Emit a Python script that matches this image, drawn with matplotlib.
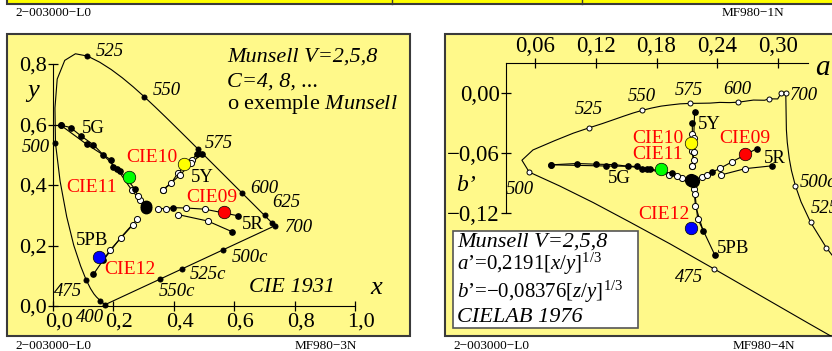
import numpy as np
import matplotlib
matplotlib.use("Agg")
import matplotlib.pyplot as plt
import matplotlib.transforms as mtransforms
from matplotlib.patches import Rectangle
from matplotlib.lines import Line2D

W, H, DPI = 832, 351, 100

plt.rcParams['font.family'] = ['Liberation Serif', 'DejaVu Serif']
plt.rcParams['mathtext.fontset'] = 'custom'
plt.rcParams['mathtext.rm'] = 'Liberation Serif'
plt.rcParams['mathtext.it'] = 'Liberation Serif:italic'

# ---- data (CIE 1931 xy) ----
locus_nm = [380, 400, 420, 440, 450, 460, 465, 470, 475, 480, 485, 490, 495, 500,
            505, 510, 515, 520, 525, 530, 535, 540, 545, 550, 555, 560, 565, 570,
            575, 580, 585, 590, 595, 600, 610, 620, 625, 630, 640, 650, 700]
locus_x = [0.1741, 0.1733, 0.1714, 0.1644, 0.1566, 0.1440, 0.1355, 0.1241, 0.1096,
           0.0913, 0.0687, 0.0454, 0.0235, 0.0082, 0.0065, 0.0139, 0.0389, 0.0743,
           0.1142, 0.1547, 0.1929, 0.2296, 0.2658, 0.3016, 0.3373, 0.3731, 0.4087,
           0.4441, 0.4788, 0.5125, 0.5448, 0.5752, 0.6029, 0.6270, 0.6658, 0.6915,
           0.7006, 0.7079, 0.7190, 0.7260, 0.7347]
locus_y = [0.0050, 0.0048, 0.0051, 0.0109, 0.0177, 0.0297, 0.0399, 0.0578, 0.0868,
           0.1327, 0.2007, 0.2950, 0.4127, 0.5384, 0.6548, 0.7502, 0.8120, 0.8338,
           0.8262, 0.8059, 0.7816, 0.7543, 0.7243, 0.6923, 0.6589, 0.6245, 0.5896,
           0.5547, 0.5202, 0.4866, 0.4544, 0.4242, 0.3965, 0.3725, 0.3340, 0.3083,
           0.2993, 0.2920, 0.2809, 0.2740, 0.2653]
locus_dot_nm = [400, 450, 475, 500, 525, 550, 575, 600, 625, 650, 700]

purple_x = [0.7347, 0.72, 0.70, 0.66, 0.62, 0.563, 0.50, 0.427, 0.354, 0.30, 0.25, 0.1733]
purple_y = [0.2653, 0.2585, 0.2492, 0.2306, 0.2121, 0.1856, 0.1564, 0.1225, 0.0886,
            0.0636, 0.0404, 0.0048]
compl_names = ['500c', '525c', '550c']
compl_x = [0.563, 0.427, 0.354]
compl_y = [0.1856, 0.1225, 0.0886]

# Munsell series: (x, y, filled) from neutral outwards
hue_5G = [
    [(0.288, 0.350, 0), (0.261, 0.383, 0), (0.213, 0.452, 1), (0.167, 0.499, 1),
     (0.134, 0.533, 1), (0.093, 0.562, 1), (0.058, 0.590, 1), (0.025, 0.598, 1)],
    [(0.280, 0.365, 0), (0.272, 0.386, 1), (0.222, 0.446, 1), (0.198, 0.458, 1),
     (0.192, 0.483, 1), (0.111, 0.535, 1), (0.025, 0.598, 1)],
]
hue_5Y = [
    [(0.363, 0.383, 0), (0.391, 0.405, 0), (0.413, 0.439, 0), (0.459, 0.483, 0),
     (0.476, 0.501, 1)],
    [(0.363, 0.383, 0), (0.420, 0.432, 0), (0.457, 0.472, 0), (0.492, 0.502, 1)],
]
hue_5R = [
    [(0.349, 0.322, 0), (0.374, 0.322, 0), (0.398, 0.325, 1), (0.439, 0.324, 0),
     (0.503, 0.320, 0), (0.614, 0.298, 1)],
    [(0.415, 0.302, 0), (0.512, 0.281, 0), (0.592, 0.246, 1)],
]
hue_5PB = [
    [(0.279, 0.287, 0), (0.224, 0.226, 0), (0.167, 0.152, 1)],
    [(0.264, 0.268, 0), (0.189, 0.185, 0), (0.134, 0.105, 1)],
]
hue_names = ['5G', '5Y', '5R', '5PB']
hue_series = [hue_5G, hue_5Y, hue_5R, hue_5PB]

cie_names = ['CIE09', 'CIE10', 'CIE11', 'CIE12']
cie_x = [0.567, 0.434, 0.252, 0.153]
cie_y = [0.312, 0.468, 0.425, 0.163]
cie_colors = ['#ff0000', '#ffff00', '#00ff00', '#0000ff']

neutral_x = [0.308, 0.308]
neutral_y = [0.329, 0.323]

PANEL = '#fff98a'
EDGE = '#3a3a3a'


def ident(x, y):
    return np.asarray(x, float), np.asarray(y, float)


def to_ab(x, y):
    x = np.asarray(x, float)
    y = np.asarray(y, float)
    z = 1 - x - y
    return 0.2191 * np.cbrt(x / y), -0.08376 * np.cbrt(z / y)


fig = plt.figure(figsize=(W / DPI, H / DPI), dpi=DPI)
fig.patch.set_facecolor('white')


def px_rect(x0, y0, x1, y1, **kw):
    fig.add_artist(Rectangle((x0 / W, 1 - y1 / H), (x1 - x0) / W, (y1 - y0) / H,
                             transform=fig.transFigure, **kw))


def ftext(px, py, s, **kw):
    kw.setdefault('va', 'center')
    fig.text(px / W, 1 - py / H, s, **kw)


def px_axes(x0, y0, x1, y1):
    ax = fig.add_axes([x0 / W, 1 - y1 / H, (x1 - x0) / W, (y1 - y0) / H])
    ax.set_facecolor('none')
    return ax


def lab(ax, xd, yd, s, dx, dy, ha='left', **kw):
    ax.annotate(s, (xd, yd), xytext=(dx * 0.72, dy * 0.72), textcoords='offset points',
                ha=ha, va='center', zorder=6, **kw)


# top strip (bottom of the panels above)
px_rect(7, -20, 850, 4, facecolor='#ffff00', edgecolor=EDGE, lw=1.5, zorder=-2)
for xv in (392, 582):
    fig.add_artist(Line2D([xv / W, xv / W], [1 - 4 / H, 1.0], color=EDGE, lw=1.0,
                          transform=fig.transFigure))

# panel frames
px_rect(7, 34, 410, 336, facecolor=PANEL, edgecolor=EDGE, lw=1.5, zorder=-2)
px_rect(445, 34, 850, 336, facecolor=PANEL, edgecolor=EDGE, lw=1.5, zorder=-2)


def draw_panel(ax, conv, locus_fill, locus_labels, compl_labels, cie_off, hue_off,
               neutral_ms):
    a, b = conv(locus_x, locus_y)
    ax.plot(a, b, color='k', lw=0.8, zorder=2)
    a, b = conv(purple_x, purple_y)
    ax.plot(a, b, color='k', lw=0.8, zorder=2)

    idx = [locus_nm.index(n) for n in locus_dot_nm]
    da, db = conv([locus_x[i] for i in idx], [locus_y[i] for i in idx])
    ax.plot(da, db, 'o', ms=3.6, mfc=locus_fill, mec='k', mew=0.7, ls='none', zorder=3)
    for nm, (dx, dy, ha) in locus_labels.items():
        i = locus_dot_nm.index(nm)
        lab(ax, da[i], db[i], str(nm), dx, dy, ha, fontsize=13.5, style='italic')

    ca, cb = conv(compl_x, compl_y)
    ax.plot(ca, cb, 'o', ms=3.6, mfc=locus_fill, mec='k', mew=0.7, ls='none', zorder=3)
    for nm, (dx, dy, ha) in compl_labels.items():
        i = compl_names.index(nm)
        lab(ax, ca[i], cb[i], nm, dx, dy, ha, fontsize=13.5, style='italic')

    for name, series in zip(hue_names, hue_series):
        for pts in series:
            xs, ys, fill = zip(*pts)
            sa, sb = conv(xs, ys)
            ax.plot(sa, sb, color='k', lw=0.8, zorder=2)
            for ai, bi, f in zip(sa, sb, fill):
                if f:
                    ax.plot(ai, bi, 'o', ms=3.8, mfc='k', mec='k', zorder=3)
                else:
                    ax.plot(ai, bi, 'o', ms=4.4, mfc='w', mec='k', mew=0.7, zorder=3)
        end = series[0][-1]
        ea, eb = conv([end[0]], [end[1]])
        dx, dy = hue_off[name]
        lab(ax, ea[0], eb[0], name, dx, dy, 'center', fontsize=13.5)

    na, nb = conv(neutral_x, neutral_y)
    ax.plot(na, nb, 'o', ms=neutral_ms, color='k', ls='none', zorder=4)

    pa, pb = conv(cie_x, cie_y)
    for i, nm in enumerate(cie_names):
        ax.plot(pa[i], pb[i], 'o', ms=9, mfc=cie_colors[i], mec='k', mew=0.5, zorder=5)
        dx, dy = cie_off[nm]
        lab(ax, pa[i], pb[i], nm, dx, dy, 'center', fontsize=14, color='#ff0000')


# ---- left panel: CIE 1931 ----
ax1 = px_axes(7, 34, 410, 336)
ax1.set_xlim((7 - 53) / 302, (410 - 53) / 302)
ax1.set_ylim((306 - 336) / 302.5, (306 - 34) / 302.5)
draw_panel(
    ax1, ident, 'k',
    {400: (-1, -13, 'right'), 475: (-4, -12, 'right'), 500: (-6, -4, 'right'),
     525: (8, 5, 'left'), 550: (9, 6, 'left'), 575: (7, 5, 'left'),
     600: (8, 5, 'left'), 625: (8, 13, 'left'), 700: (10, -2, 'left')},
    {'500c': (9, -8, 'left'), '525c': (8, -6, 'left'), '550c': (-1, -12, 'left')},
    {'CIE09': (-12, 14), 'CIE10': (-32, 7), 'CIE11': (-38, -10), 'CIE12': (31, -13)},
    {'5G': (33, -3), '5Y': (6, -23), '5R': (14, -9), '5PB': (-11, 20)},
    7.5)
for s in ('top', 'right'):
    ax1.spines[s].set_visible(False)
ax1.spines['left'].set_position(('data', 0))
ax1.spines['bottom'].set_position(('data', 0))
ax1.spines['left'].set_bounds(0, 0.8)
ax1.spines['bottom'].set_bounds(0, 1.0)
ax1.set_xticks([0, 0.2, 0.4, 0.6, 0.8, 1.0], ['0,0', '0,2', '0,4', '0,6', '0,8', '1,0'])
ax1.set_yticks([0, 0.2, 0.4, 0.6, 0.8], ['0,0', '0,2', '0,4', '0,6', '0,8'])
ax1.tick_params(direction='inout', length=7, width=0.9, labelsize=16, pad=1)
off = mtransforms.ScaledTranslation(6 / DPI, 0, fig.dpi_scale_trans)
for t in ax1.get_xticklabels():
    t.set_transform(t.get_transform() + off)

ftext(227, 57, 'Munsell V=2,5,8', fontsize=16, style='italic')
ftext(227, 82, 'C=4, 8, ...', fontsize=16, style='italic')
ftext(227, 104.5, 'o exemple $Munsell$', fontsize=16)
ftext(292, 288, 'CIE 1931', fontsize=16, style='italic', ha='center')
ftext(376, 288, 'x', fontsize=19, style='italic', ha='center')
ftext(33, 91, 'y', fontsize=19, style='italic', ha='center')

# ---- right panel: a', b' ----
ax2 = px_axes(445, 34, 832, 336)
ax2.set_xlim((445 - 474.25) / 1012.5, (832 - 474.25) / 1012.5)
ax2.set_ylim(-(336 - 93) / 1000, -(34 - 93) / 1000)
draw_panel(
    ax2, to_ab, 'w',
    {475: (-11, -9, 'right'), 500: (-9, -17, 'center'), 525: (0, 18, 'center'),
     550: (-1, 14, 'center'), 575: (-1, 13, 'center'), 600: (-1, 13, 'center'),
     700: (4, -3, 'left')},
    {'500c': (4, 3, 'left'), '525c': (0, 14, 'left')},
    {'CIE09': (0, 16), 'CIE10': (-33, 4), 'CIE11': (-3, 15), 'CIE12': (-28, 14)},
    {'5G': (68, -14), '5Y': (17, -2), '5R': (18, -10), '5PB': (30, -17)},
    8.5)
for s in ('bottom', 'right'):
    ax2.spines[s].set_visible(False)
ax2.spines['top'].set_position(('data', 0.030))
ax2.spines['top'].set_bounds(0.0316, 0.330)
ax2.spines['left'].set_position(('data', 0.0316))
ax2.spines['left'].set_bounds(-0.12, 0.030)
ax2.xaxis.tick_top()
ax2.set_xticks([0.06, 0.12, 0.18, 0.24, 0.30], ['0,06', '0,12', '0,18', '0,24', '0,30'])
ax2.set_yticks([0, -0.06, -0.12], ['0,00', '\u22120,06', '\u22120,12'])
ax2.tick_params(direction='inout', length=7, width=0.9, labelsize=16.5, pad=1)

ftext(822, 68, 'a', fontsize=21, style='italic', ha='center')
ftext(466, 185, 'b\u2019', fontsize=17, style='italic', ha='center')

px_rect(453, 231, 638, 328, facecolor='white', edgecolor='#555555', lw=1.2, zorder=8)
ftext(457, 242, 'Munsell V=2,5,8', fontsize=16, style='italic', zorder=9)
ftext(457, 264, '$a$\u2019=0,2191[$x/y$]$^{1/3}$', fontsize=15, zorder=9)
ftext(457, 292, '$b$\u2019=\u22120,08376[$z/y$]$^{1/3}$', fontsize=15, zorder=9)
ftext(457, 317, 'CIELAB 1976', fontsize=16, style='italic', zorder=9)

# footer / header codes
ftext(15, 13, '2\u2212003000\u2212L0', fontsize=9.5)
ftext(722, 13, 'MF980\u22121N', fontsize=9.5)
ftext(15, 346, '2\u2212003000\u2212L0', fontsize=9.5)
ftext(295, 346, 'MF980\u22123N', fontsize=9.5)
ftext(453, 346, '2\u2212003000\u2212L0', fontsize=9.5)
ftext(733, 346, 'MF980\u22124N', fontsize=9.5)

fig.savefig('out.png', dpi=DPI)
